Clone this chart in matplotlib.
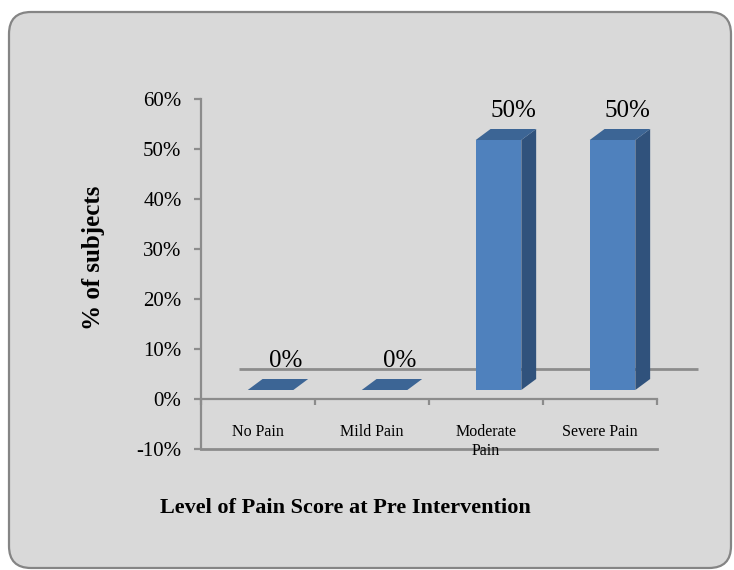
import numpy as np
import matplotlib
matplotlib.use('Agg')
import matplotlib.pyplot as plt
from matplotlib.patches import Polygon, FancyBboxPatch
from matplotlib.transforms import IdentityTransform

plt.rcParams['font.family'] = ['Liberation Serif', 'DejaVu Serif']

categories = ['No Pain', 'Mild Pain', 'Moderate\nPain', 'Severe Pain']
values = [0, 0, 50, 50]
value_labels = ['0%', '0%', '50%', '50%']
yticks = [-10, 0, 10, 20, 30, 40, 50, 60]

# styling for the fake 3d look
front_col = '#4f81bd'
top_col = '#3c6595'
side_col = '#30527c'
line_col = '#8c8c8c'
bg_col = '#d9d9d9'
bar_w = 0.40
bar_shift = 0.11      # bars sit a bit right of the category centre
base = 1.8            # bars float a little above the 0 line (depth)
ddx, ddy = 0.13, 2.2  # depth of a bar
wall_dx, wall_y = 0.33, 6.1

fig = plt.figure(figsize=(7.34, 5.7), dpi=100)
fig.patch.set_facecolor('white')

# rounded grey chart area
box = FancyBboxPatch((9, 2), 722, 556, boxstyle='round,pad=0,rounding_size=22',
                     transform=IdentityTransform(), facecolor=bg_col,
                     edgecolor='#858585', linewidth=1.6, zorder=-5)
fig.add_artist(box)

ax = fig.add_axes([201 / 734, 121 / 570, 456 / 734, 350 / 570])
ax.set_zorder(1)
ax.set_facecolor('none')
ax.set_xlim(0, 4)
ax.set_ylim(-10, 60)

# back floor line
ax.plot([wall_dx, 4 + wall_dx + 0.03], [wall_y, wall_y], color=line_col, lw=2,
        clip_on=False, zorder=1, solid_capstyle='butt')
# bottom line at -10
ax.plot([0, 4], [-10, -10], color=line_col, lw=2, clip_on=False, zorder=1)

for i, v in enumerate(values):
    x0 = i + 0.5 - bar_w / 2 + bar_shift
    x1 = x0 + bar_w
    top = base + v
    if v > 0:
        ax.add_patch(Polygon([(x0, base), (x1, base), (x1, top), (x0, top)],
                             closed=True, facecolor=front_col, edgecolor='none', zorder=3))
        ax.add_patch(Polygon([(x1, base), (x1 + ddx, base + ddy), (x1 + ddx, top + ddy), (x1, top)],
                             closed=True, facecolor=side_col, edgecolor='none', zorder=3))
    ax.add_patch(Polygon([(x0, top), (x1, top), (x1 + ddx, top + ddy), (x0 + ddx, top + ddy)],
                         closed=True, facecolor=top_col, edgecolor='none', zorder=3))
    ax.text((x0 + x1) / 2 + ddx, top + ddy + 1.4, value_labels[i], ha='center', va='bottom',
            fontsize=18, zorder=4)
    ax.text(i + 0.5, -5.0, categories[i], ha='center', va='top', fontsize=11.5,
            linespacing=1.25)

for s in ['top', 'right']:
    ax.spines[s].set_visible(False)
ax.spines['bottom'].set_position(('data', 0))
for s in ['left', 'bottom']:
    ax.spines[s].set_color(line_col)
    ax.spines[s].set_linewidth(1.6)

ax.set_xticks(np.arange(0, 5))
ax.set_xticklabels([])
ax.tick_params(axis='x', direction='out', length=4, width=1.6, color=line_col)
ax.set_yticks(yticks)
ax.set_yticklabels([str(t) + '%' for t in yticks], fontsize=15)
ax.tick_params(axis='y', direction='out', length=5, width=1.6, color=line_col, pad=9)

ax.set_ylabel('% of subjects', fontsize=18, fontweight='bold')
ax.yaxis.set_label_coords(-0.21, 0.546)
ax.set_xlabel('Level of Pain Score at Pre Intervention', fontsize=16, fontweight='bold')
ax.xaxis.set_label_coords(0.316, -0.14)

fig.savefig('out.png', dpi=100)
